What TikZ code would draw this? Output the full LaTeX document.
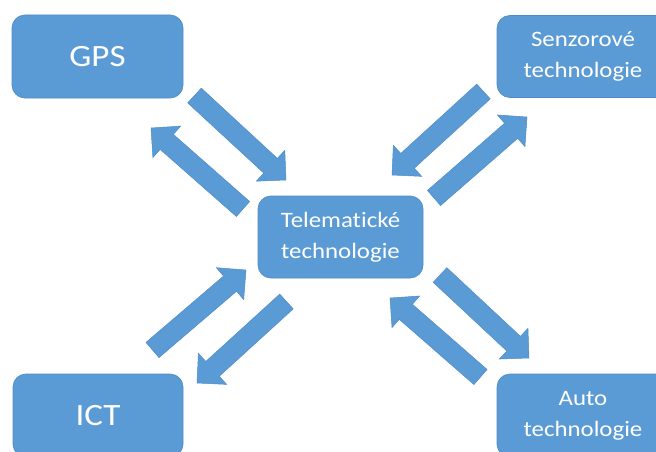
\documentclass[tikz,border=0pt]{standalone}
\usepackage{fontspec}
\setmainfont{Carlito}[FakeStretch=1.13, Ligatures=NoCommon]
\usetikzlibrary{calc}
\definecolor{boxblue}{HTML}{5B9BD5}
\definecolor{edgeblue}{HTML}{4E8CC6}
\tikzset{
  techbox/.style={draw=edgeblue, line width=0.7pt, fill=boxblue, rounded corners=13pt,
    text=white, align=center, inner sep=0pt},
  bigtext/.style={font=\fontsize{31}{36}\selectfont},
  smalltext/.style={font=\fontsize{22}{31}\selectfont},
  arrowfill/.style={fill=boxblue, draw=edgeblue, line width=0.5pt, line join=miter},
}
% block arrow from tail (#1) to tip (#2): shaft 20pt, head 42pt wide, 21pt long
\newcommand\blockarrow[2]{%
  \filldraw[arrowfill]
    ($(#1)!10pt!90:(#2)$) --
    ($(#2)!21pt!(#1)!10pt!-90:(#1)$) --
    ($(#2)!21pt!(#1)!21pt!-90:(#1)$) --
    (#2) --
    ($(#2)!21pt!(#1)!21pt!90:(#1)$) --
    ($(#2)!21pt!(#1)!10pt!90:(#1)$) --
    ($(#1)!10pt!-90:(#2)$) -- cycle;}
\begin{document}
\begin{tikzpicture}[x=1pt, y=-1pt]
  \useasboundingbox (0,0) rectangle (656,452);
  \clip (0,0) rectangle (656,452);

  % boxes
  \node[techbox, bigtext, minimum width=171pt, minimum height=83pt] (gps) at (97.5,56.5) {GPS};
  \node[techbox, smalltext, minimum width=172pt, minimum height=82pt] (senz) at (583,56.5) {Senzorové\\technologie};
  \node[techbox, smalltext, minimum width=165pt, minimum height=82pt] (tele) at (340.5,237) {Telematické\\technologie};
  \node[techbox, bigtext, minimum width=170pt, minimum height=83pt] (ict) at (98,415.5) {ICT};
  \node[techbox, smalltext, minimum width=172pt, minimum height=83pt] (auto) at (583,415.5) {Auto\\technologie};

  % arrow end points
  \coordinate (gpsOut) at (194.5,95.5);  \coordinate (teleInGps) at (286,180);
  \coordinate (teleOutGps) at (243,209); \coordinate (gpsIn) at (151,128);
  \coordinate (senzOut) at (483.5,91.5); \coordinate (teleInSenz) at (392,175);
  \coordinate (teleOutSenz) at (434,198); \coordinate (senzIn) at (527,117);
  \coordinate (ictOut) at (152.5,350);   \coordinate (teleInIct) at (246,270);
  \coordinate (teleOutIct) at (286.5,301.5); \coordinate (ictIn) at (197,383);
  \coordinate (teleOutAuto) at (440,275); \coordinate (autoIn) at (529,358);
  \coordinate (autoOut) at (480.5,377);  \coordinate (teleInAuto) at (390,298);

  % arrows
  \blockarrow{gpsOut}{teleInGps}
  \blockarrow{teleOutGps}{gpsIn}
  \blockarrow{senzOut}{teleInSenz}
  \blockarrow{teleOutSenz}{senzIn}
  \blockarrow{ictOut}{teleInIct}
  \blockarrow{teleOutIct}{ictIn}
  \blockarrow{teleOutAuto}{autoIn}
  \blockarrow{autoOut}{teleInAuto}
\end{tikzpicture}
\end{document}
